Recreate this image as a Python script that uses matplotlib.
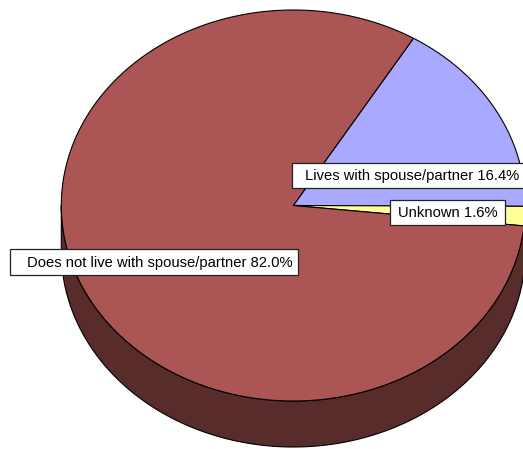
import numpy as np
import matplotlib
matplotlib.use("Agg")
import matplotlib.pyplot as plt
from matplotlib.patches import Polygon, Rectangle
from matplotlib.colors import to_rgb

# Living arrangement shares (percent), in drawing order (clockwise)
categories = ["Lives with spouse/partner", "Unknown", "Does not live with spouse/partner"]
shares = [16.4, 1.6, 82.0]
colors = ["#A9A9FF", "#FFFF99", "#AB5654"]

# Label boxes: (left, top, right, bottom) in pixel space, text centre x
label_boxes = [
    (292, 163, 535, 188, 412.5),
    (390, 200, 505, 225, 447.5),
    (10, 249, 298, 275, 160),
]

W, H = 523, 449
fig = plt.figure(figsize=(W / 100, H / 100), dpi=100)
ax = fig.add_axes([0, 0, 1, 1])
ax.set_xlim(0, W)
ax.set_ylim(H, 0)
ax.axis("off")

# Pie geometry (tilted disc)
cx, cy = 293.3, 205.5
rx, ry = 232.0, 195.5
depth = 46.0
start_angle = 58.8


def pt(theta_deg, dy=0.0):
    t = np.radians(theta_deg)
    return cx + rx * np.cos(t), cy - ry * np.sin(t) + dy


def arc(a0, a1, dy=0.0, n=None):
    if n is None:
        n = max(int(abs(a1 - a0) * 2) + 2, 3)
    th = np.linspace(a0, a1, n)
    xs, ys = pt(th, dy)
    return np.column_stack([xs, ys])


# Angular extents of each slice, going clockwise from the start angle
ranges = []
a = start_angle
for s in shares:
    sweep = s / 100.0 * 360.0
    ranges.append((a - sweep, a))
    a -= sweep

# Side walls of the visible (front) half
for (lo, hi), col in zip(ranges, colors):
    dark = tuple(0.51 * c for c in to_rgb(col))
    for f_lo, f_hi in [(-180, 0), (180, 360), (-540, -360)]:
        l, h = max(lo, f_lo), min(hi, f_hi)
        if h - l <= 0:
            continue
        top = arc(l, h)
        bot = arc(h, l, dy=depth)
        poly = Polygon(np.vstack([top, bot]), closed=True, facecolor=dark,
                       edgecolor="black", linewidth=0.8, joinstyle="round")
        ax.add_patch(poly)

# Top faces of the slices
for (lo, hi), col in zip(ranges, colors):
    pts = np.vstack([[cx, cy], arc(lo, hi)])
    ax.add_patch(Polygon(pts, closed=True, facecolor=col, edgecolor="black",
                         linewidth=0.8, joinstyle="round"))

# Data labels
for (name, val), (l, t, r, b, tx) in zip(zip(categories, shares), label_boxes):
    ax.add_patch(Rectangle((l, t), r - l, b - t, facecolor="white",
                           edgecolor="#222222", linewidth=0.9))
    ax.text(tx, (t + b) / 2 + 0.5, f"{name} {val:.1f}%", ha="center", va="center",
            fontsize=10.6, family="Liberation Sans", color="black")

fig.savefig("out.png", dpi=100)
